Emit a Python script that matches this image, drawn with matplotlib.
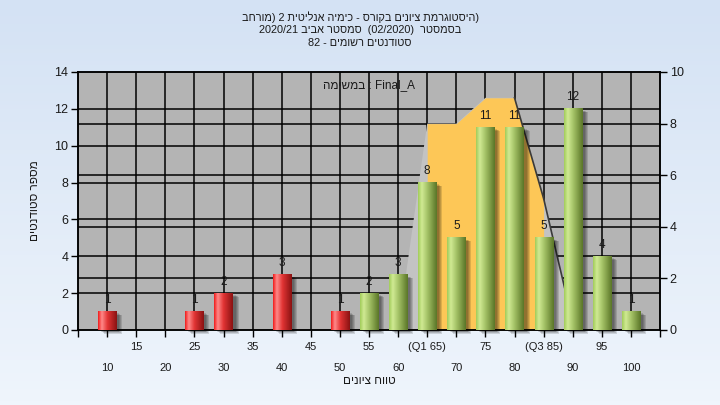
import re
import numpy as np
import matplotlib
matplotlib.use('Agg')
import matplotlib.pyplot as plt
from matplotlib.colors import LinearSegmentedColormap
from matplotlib.patches import Rectangle, Polygon
from matplotlib import transforms

plt.rcParams['font.family'] = ['Liberation Sans', 'DejaVu Sans']

# Data
categories = [10, 15, 20, 25, 30, 35, 40, 45, 50, 55, 60, 65, 70, 75, 80, 85, 90, 95, 100]
tick_labels = ['10', '15', '20', '25', '30', '35', '40', '45', '50', '55', '60',
               '(Q1 65)', '70', '75', '80', '(Q3 85)', '90', '95', '100']
counts = [1, 0, 0, 1, 2, 0, 3, 0, 1, 2, 3, 8, 5, 11, 11, 5, 12, 4, 1]
pass_grade = 55

# shaded band (right axis scale)
band_grades = [60, 65, 70, 75, 80, 85, 90]
band_values = [0, 8, 8, 9, 9, 5.1, 0.3]
q1, q3 = 65, 85

title_lines = ['(היסטוגרמת ציונים בקורס - כימיה אנליטית 2 (מורחב',
               'בסמסטר  (02/2020)  סמסטר אביב 2020/21',
               'סטודנטים רשומים - 82']
x_title = 'טווח ציונים'
y_title = 'מספר סטודנטים'
series_name = 'במשימה'
task_name = 'Final_A'


def rtl(s):
    # matplotlib has no bidi: put Hebrew into visual order
    out = s[::-1]
    out = re.sub(r'[A-Za-z0-9/._]+', lambda m: m.group(0)[::-1], out)
    return out.translate(str.maketrans('()', ')('))


fig = plt.figure(figsize=(7.2, 4.05), dpi=100)

# light blue background gradient
bg = fig.add_axes([0, 0, 1, 1], zorder=-10)
bg_cmap = LinearSegmentedColormap.from_list('bg', ['#eff5fc', '#d4e2f4'])
bg.imshow(np.linspace(0, 1, 100)[:, None], aspect='auto', cmap=bg_cmap,
          extent=[0, 1, 0, 1], origin='lower')
bg.axis('off')

ax = fig.add_axes([78 / 720, 75 / 405, 582 / 720, 258 / 405])
axr = ax.twinx()
ax.set_zorder(2)
axr.set_zorder(1)
ax.patch.set_visible(False)
axr.patch.set_visible(True)
axr.patch.set_facecolor('#b4b4b4')

ax.set_xlim(-1, 19)
ax.set_ylim(0, 14)
axr.set_ylim(0, 10)
left_ticks = list(range(0, 15, 2))
right_ticks = list(range(0, 11, 2))
ax.set_yticks(left_ticks)
axr.set_yticks(right_ticks)

# grid lines (under the band)
idx = np.arange(len(categories))
for i in idx:
    axr.axvline(i, color='black', lw=1.1, zorder=0.5)
axr.hlines(right_ticks[1:-1], 0, 1, transform=transforms.blended_transform_factory(axr.transAxes, axr.transData),
           color='black', lw=1.1, zorder=0.5)
axr.hlines(left_ticks[1:-1], 0, 1, transform=transforms.blended_transform_factory(axr.transAxes, ax.transData),
           color='black', lw=1.1, zorder=0.5)

# band: light grey shape, yellow between quartiles, dark edge on the falling side
bx = np.array([categories.index(g) for g in band_grades], dtype=float)
bv = np.array(band_values)
axr.add_patch(Polygon(np.column_stack([np.r_[bx, bx[::-1]], np.r_[bv, np.zeros_like(bv)]]),
                      closed=True, facecolor='#c3c3c3', edgecolor='none', zorder=1))
iq = (bx >= categories.index(q1)) & (bx <= categories.index(q3))
axr.fill_between(bx[iq], 0, bv[iq], color='#fdc757', lw=0, zorder=1.2)
peak = np.argmax(bv) + 1 if bv[np.argmax(bv) + 1] == bv.max() else np.argmax(bv)
axr.plot(bx[peak:], bv[peak:], color='#3a3a3a', lw=1.2, zorder=1.3)

# bars with gradient and soft shadow
w = 0.62
green = LinearSegmentedColormap.from_list('g', [(0, '#a2cc5a'), (0.2, '#d0ea94'), (0.5, '#a4c266'), (1, '#5a7628')])
red = LinearSegmentedColormap.from_list('r', [(0, '#f01c1c'), (0.2, '#ff8a8a'), (0.5, '#e23434'), (1, '#8a1212')])
grad = np.linspace(0, 1, 64)[None, :]
for i, c in zip(idx, counts):
    if c == 0:
        continue
    cmap = red if categories[i] < pass_grade else green
    for k, off in enumerate([6, 5, 4, 3]):
        sh = transforms.ScaledTranslation(off / 100, -off / 100 * 0.6, fig.dpi_scale_trans)
        ax.add_patch(Rectangle((i - w / 2, 0), w, c, facecolor='black', alpha=0.13,
                               edgecolor='none', transform=ax.transData + sh, zorder=2, clip_on=False))
    ax.imshow(grad, extent=(i - w / 2, i + w / 2, 0, c), aspect='auto', cmap=cmap,
              interpolation='bilinear', zorder=3)
    ax.annotate(str(c), (i, c), xytext=(0, 4), textcoords='offset points',
                ha='center', va='bottom', fontsize=8.5, color='#1a1a1a', zorder=4)

ax.set_xlim(-1, 19)
ax.set_ylim(0, 14)

# axes, ticks and labels
ax.set_xticks(range(-1, 20))
ax.set_xticklabels([''] + tick_labels + [''], fontsize=8, color='#1a1a1a')
ax.tick_params(axis='x', length=5, width=1, direction='out')
for j, t in enumerate(ax.xaxis.get_major_ticks()):
    t.set_pad(4 if j % 2 == 0 else 19)
ax.tick_params(axis='y', length=5, width=1, direction='out', labelsize=9, labelcolor='#1a1a1a', pad=2)
axr.tick_params(axis='y', length=5, width=1, direction='out', labelsize=9, labelcolor='#1a1a1a', pad=2)
for a in (ax, axr):
    for s in a.spines.values():
        s.set_color('black')
        s.set_linewidth(1.1)

ax.text(0.5, 0.95, rtl(series_name) + ' : ' + task_name, transform=ax.transAxes,
        ha='center', va='center', fontsize=8.5, color='#1a1a1a', zorder=5)

for k, line in enumerate(title_lines):
    fig.text(0.5, 1 - (17 + 13 * k) / 405, rtl(line), ha='center', va='center', fontsize=7.8, color='#1a1a1a')
fig.text(369 / 720, 1 - 381 / 405, rtl(x_title), ha='center', va='center', fontsize=8.5, color='#1a1a1a')
fig.text(35 / 720, 1 - 201 / 405, rtl(y_title), ha='center', va='center', rotation=90, fontsize=8.5, color='#1a1a1a')

fig.savefig('out.png', dpi=100)
